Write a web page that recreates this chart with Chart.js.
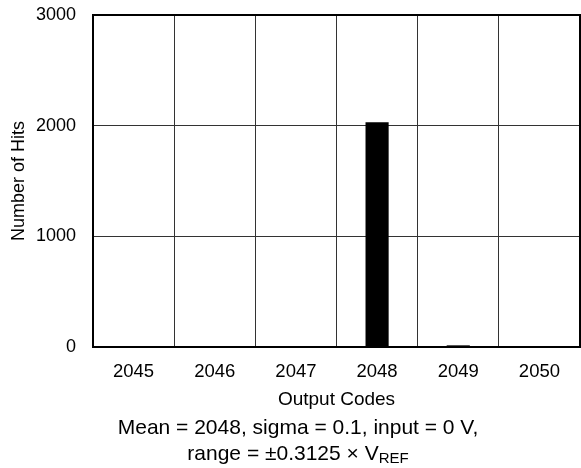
<!DOCTYPE html>
<html>
<head>
<meta charset="utf-8">
<script src="https://cdn.jsdelivr.net/npm/chart.js@4"></script>
<style>
  body { margin: 0; background: #fff; }
  .chart-box { width: 581px; height: 468px; position: relative; }
</style>
</head>
<body>
<div class="chart-box"><canvas id="hist-canvas"></canvas></div>
<script>
const codes = ['2045', '2046', '2047', '2048', '2049', '2050'];
const hits = [0, 0, 0, 2030, 15, 0];
const yMin = 0;
const yMax = 3000;
const yStep = 1000;
const xTitle = 'Output Codes';
const yTitle = 'Number of Hits';
const captionLine1 = 'Mean = 2048, sigma = 0.1, input = 0 V,';
const captionLine2 = 'range = \u00b10.3125 \u00d7 V';
const captionSub = 'REF';

const FONT = "'Liberation Sans', Arial, sans-serif";

// frame round the plot + the two caption lines under the axis title
const framePlugin = {
  id: 'frame',
  afterDraw(chart) {
    const { ctx, chartArea: a } = chart;
    ctx.save();
    ctx.strokeStyle = '#000';
    ctx.lineWidth = 2;
    ctx.strokeRect(a.left, a.top, a.right - a.left, a.bottom - a.top);

    ctx.fillStyle = '#000';
    ctx.textBaseline = 'middle';
    ctx.textAlign = 'left';
    const cx = 298;

    ctx.font = `21px ${FONT}`;
    let w = ctx.measureText(captionLine1).width;
    ctx.fillText(captionLine1, cx - w / 2, 428);

    const w2 = ctx.measureText(captionLine2).width;
    ctx.font = `15px ${FONT}`;
    const ws = ctx.measureText(captionSub).width;
    const x0 = cx - (w2 + ws) / 2;
    ctx.font = `21px ${FONT}`;
    ctx.fillText(captionLine2, x0, 454);
    ctx.font = `15px ${FONT}`;
    ctx.fillText(captionSub, x0 + w2, 459);
    ctx.restore();
  }
};

const ctx = document.getElementById('hist-canvas').getContext('2d');

new Chart(ctx, {
  type: 'bar',
  data: {
    labels: codes,
    datasets: [{
      data: hits,
      backgroundColor: '#000',
      borderWidth: 0,
      categoryPercentage: 1,
      barPercentage: 0.285,
    }]
  },
  options: {
    responsive: true,
    maintainAspectRatio: false,
    animation: false,
    layout: { padding: { left: 0, right: 1, top: 15, bottom: 0 } },
    plugins: {
      legend: { display: false },
      tooltip: { enabled: false },
    },
    scales: {
      x: {
        grid: { offset: true, color: '#333', lineWidth: 1, drawTicks: false },
        border: { display: false },
        ticks: {
          color: '#000',
          font: { family: FONT, size: 18.5 },
          padding: 14,
          maxRotation: 0,
        },
        title: {
          display: true,
          text: xTitle,
          color: '#000',
          font: { family: FONT, size: 19 },
          padding: { top: 0, bottom: 57 },
        },
        afterFit(scale) {
          scale.height = 121;
          scale.paddingLeft = 0;
          scale.paddingRight = 0;
        },
      },
      y: {
        min: yMin,
        max: yMax,
        grid: { color: '#333', lineWidth: 1, drawTicks: false },
        border: { display: false },
        ticks: {
          stepSize: yStep,
          color: '#000',
          font: { family: FONT, size: 18 },
          padding: 17,
          callback: (v) => String(v),
        },
        title: {
          display: true,
          text: yTitle,
          color: '#000',
          font: { family: FONT, size: 18 },
          padding: { top: 8, bottom: 0 },
        },
        afterFit(scale) {
          scale.width = 93;
          scale.paddingTop = 0;
          scale.paddingBottom = 0;
        },
      }
    }
  },
  plugins: [framePlugin]
});
</script>
</body>
</html>
